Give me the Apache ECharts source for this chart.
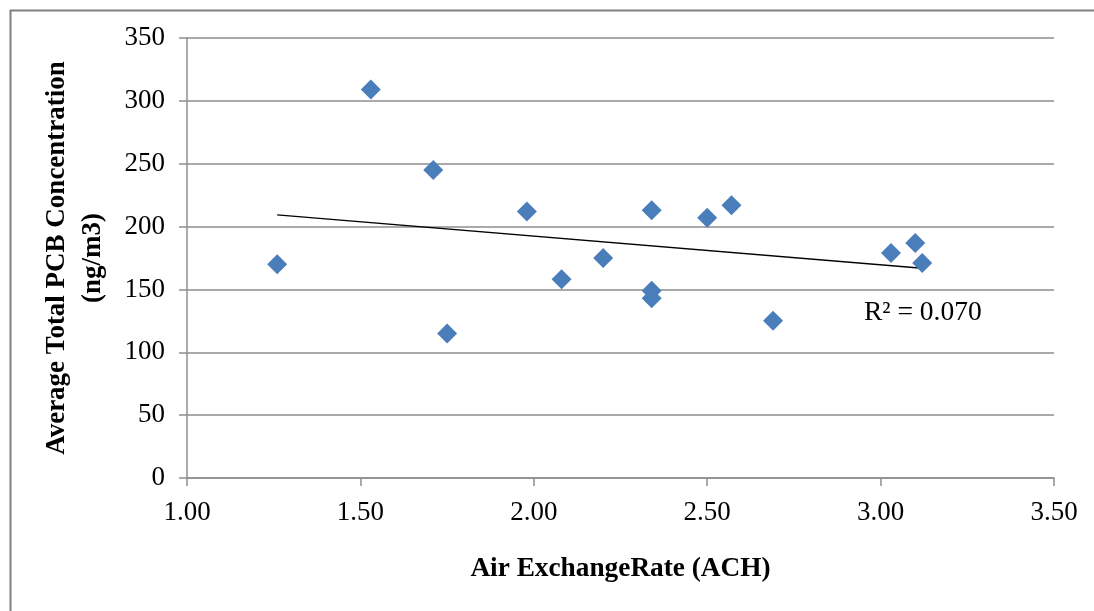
<!DOCTYPE html>
<html>
<head>
<meta charset="utf-8">
<script src="https://cdn.jsdelivr.net/npm/echarts@6/dist/echarts.min.js"></script>
<style>
html,body{margin:0;padding:0;background:#fff;}
#c{width:1094px;height:611px;}
</style>
</head>
<body>
<div id="c"></div>
<script>
var airExchange = [1.26, 1.53, 1.71, 1.75, 1.98, 2.08, 2.20, 2.34, 2.34, 2.34, 2.50, 2.57, 2.69, 3.03, 3.10, 3.12];
var pcbConc     = [170, 309, 245, 115, 212, 158, 175, 213, 149, 143, 207, 217, 125, 179, 187, 171];
var xTicks = ['1.00', '1.50', '2.00', '2.50', '3.00', '3.50'];
var yTicks = [0, 50, 100, 150, 200, 250, 300, 350];
var rSquaredLabel = 'R\u00B2 = 0.070';

// least-squares trendline over the data range
var n = airExchange.length, sx = 0, sy = 0;
for (var i = 0; i < n; i++) { sx += airExchange[i]; sy += pcbConc[i]; }
var mx = sx / n, my = sy / n, sxy = 0, sxx = 0;
for (var j = 0; j < n; j++) { sxy += (airExchange[j] - mx) * (pcbConc[j] - my); sxx += (airExchange[j] - mx) * (airExchange[j] - mx); }
var slope = sxy / sxx, intercept = my - slope * mx;
var xMin = Math.min.apply(null, airExchange), xMax = Math.max.apply(null, airExchange);
var trend = [[xMin, intercept + slope * xMin], [xMax, intercept + slope * xMax]];

var pts = airExchange.map(function (x, k) { return [x, pcbConc[k]]; });
var font = '"Liberation Serif", "Times New Roman", serif';
var gridColor = '#8e8e8e';

var chart = echarts.init(document.getElementById('c'));
chart.setOption({
  animation: false,
  backgroundColor: '#fff',
  grid: { left: 187, right: 40, top: 38, bottom: 133, containLabel: false },
  xAxis: {
    type: 'value', min: 1, max: 3.5, interval: 0.5,
    name: 'Air ExchangeRate (ACH)', nameLocation: 'middle', nameGap: 77,
    nameTextStyle: { fontFamily: font, fontSize: 27.3, fontWeight: 'bold', color: '#000' },
    axisLine: { show: true, lineStyle: { color: gridColor, width: 1.5 } },
    axisTick: { show: true, inside: false, length: 8, lineStyle: { color: gridColor, width: 1.5 } },
    axisLabel: { fontFamily: font, fontSize: 27, color: '#000', margin: 21,
      formatter: function (v) { var s = v.toFixed(2); return xTicks.indexOf(s) >= 0 ? s : ''; } },
    splitLine: { show: false }
  },
  yAxis: {
    type: 'value', min: 0, max: 350, interval: 50,
    name: 'Average Total PCB Concentration\n(ng/m3)', nameLocation: 'middle', nameGap: 76, nameRotate: 90,
    nameTextStyle: { fontFamily: font, fontSize: 27, fontWeight: 'bold', color: '#000', lineHeight: 36, align: 'center' },
    axisLine: { show: true, lineStyle: { color: gridColor, width: 1.5 } },
    axisTick: { show: true, inside: false, length: 8, lineStyle: { color: gridColor, width: 1.5 } },
    axisLabel: { fontFamily: font, fontSize: 27, color: '#000', margin: 22,
      formatter: function (v) { return yTicks.indexOf(v) >= 0 ? String(v) : ''; } },
    splitLine: { show: true, lineStyle: { color: gridColor, width: 1.5 } }
  },
  graphic: [
    { type: 'rect', left: 8, top: 8, shape: { width: 1200, height: 700 }, style: { fill: 'none', stroke: '#808080', lineWidth: 2 }, silent: true },
    { type: 'text', left: 864, top: 299, style: { text: rSquaredLabel, font: '27.5px ' + font, fill: '#000' } }
  ],
  series: [
    { type: 'line', data: trend, symbol: 'none', lineStyle: { color: '#000', width: 1.3 }, z: 2 },
    { type: 'scatter', data: pts, symbol: 'diamond', symbolSize: 20, itemStyle: { color: '#4A7EBB', opacity: 1 }, z: 3 }
  ]
});
</script>
</body>
</html>
